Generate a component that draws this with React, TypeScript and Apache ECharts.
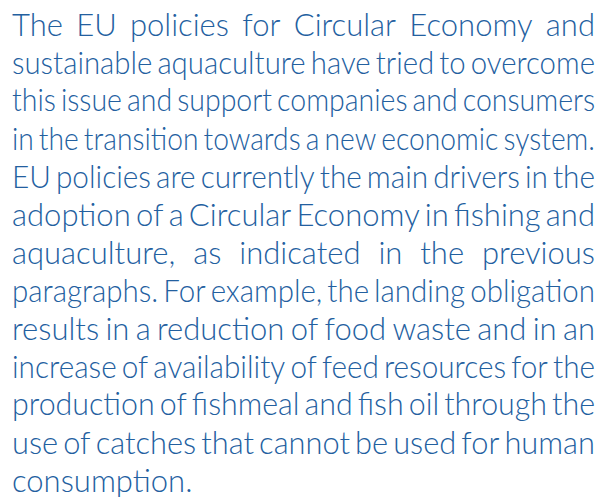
import React, { useEffect, useRef } from "react";
import * as echarts from "echarts";

const LINES: string[] = [
  "The EU policies for Circular Economy and",
  "sustainable aquaculture have tried to overcome",
  "this issue and support companies and consumers",
  "in the transition towards a new economic system.",
  "EU policies are currently the main drivers in the",
  "adoption of a Circular Economy in fishing and",
  "aquaculture, as indicated in the previous",
  "paragraphs. For example, the landing obligation",
  "results in a reduction of food waste and in an",
  "increase of availability of feed resources for the",
  "production of fishmeal and fish oil through the",
  "use of catches that cannot be used for human",
  "consumption.",
];

const FONT_SIZE = 31;
const FONT_WEIGHT = 300;
const FONT_FAMILY = "Lato";
const TEXT_COLOR = "#23609f";
const LEFT = 12;
const RIGHT = 595;
const FIRST_BASELINE = 34;
const LEADING = 38;
const TOP_TO_BASELINE = 26;

function buildGraphic() {
  const canvas = document.createElement("canvas");
  const ctx = canvas.getContext("2d")!;
  const font = `${FONT_WEIGHT} ${FONT_SIZE}px ${FONT_FAMILY}`;
  ctx.font = font;
  const spaceW = ctx.measureText(" ").width;
  const W = RIGHT - LEFT;
  const elements: any[] = [];
  LINES.forEach((line, i) => {
    const words = line.split(" ");
    const widths = words.map((w) => ctx.measureText(w).width);
    const sum = widths.reduce((a, b) => a + b, 0);
    const isLast = i === LINES.length - 1;
    let gap = spaceW;
    let scale = 1;
    if (!isLast && words.length > 1) {
      gap = (W - sum) / (words.length - 1);
      const minGap = spaceW * 0.6;
      if (gap < minGap) {
        gap = minGap;
        scale = (W - minGap * (words.length - 1)) / sum;
      }
    }
    const top = FIRST_BASELINE + i * LEADING - TOP_TO_BASELINE;
    let x = LEFT;
    words.forEach((w, j) => {
      elements.push({
        type: "text",
        x,
        y: top,
        scaleX: scale,
        silent: true,
        style: {
          text: w,
          x: 0,
          y: 0,
          font,
          fill: TEXT_COLOR,
          align: "left",
          verticalAlign: "top",
        },
      });
      x += widths[j] * scale + gap;
    });
  });
  return elements;
}

export default function App() {
  const ref = useRef<HTMLDivElement>(null);
  useEffect(() => {
    document.body.style.margin = "0";
    const chart = echarts.init(ref.current!, undefined, { renderer: "svg" });
    chart.setOption({
      animation: false,
      backgroundColor: "#ffffff",
      graphic: buildGraphic(),
    });
    return () => chart.dispose();
  }, []);
  return <div ref={ref} style={{ width: 601, height: 497 }} />;
}
